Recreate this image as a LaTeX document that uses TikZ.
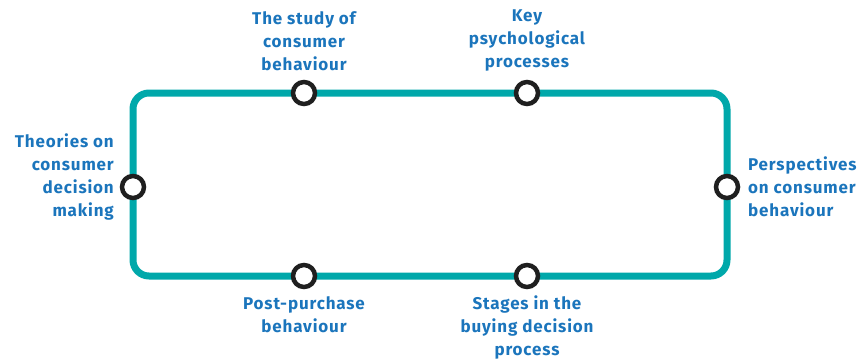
\documentclass[tikz,border=0pt]{standalone}
\usepackage{fontspec}
\setmainfont{Fira Sans}[LetterSpace=5]
\usetikzlibrary{calc}
\definecolor{teal1}{RGB}{0,168,170}
\definecolor{blue1}{RGB}{27,117,188}
\begin{document}
\begin{tikzpicture}[x=1pt,y=-1pt,
  track/.style={draw=teal1,line width=7pt,rounded corners=16pt},
  stop/.style={circle,draw=black!88,line width=4.5pt,fill=white,minimum size=22pt,inner sep=0pt},
  lab/.style={text=blue1,font=\fontsize{17}{23}\selectfont\bfseries,inner sep=0pt,align=center}]
\useasboundingbox (0,0) rectangle (863,364);
\draw[track] (133,93) rectangle (727,276);
\node[stop] (s1) at (304,93) {};
\node[stop] (s2) at (527,93) {};
\node[stop] (s3) at (133,187) {};
\node[stop] (s4) at (727,187) {};
\node[stop] (s5) at (304,276) {};
\node[stop] (s6) at (527,276) {};
\node[lab,anchor=south] (l1) at ($(s1)+(0,-22)$) {The study of\\consumer\\behaviour};
\node[lab,anchor=south] (l2) at ($(s2)+(0,-22)$) {Key\\psychological\\processes};
\node[lab,anchor=east,align=right] (l3) at ($(s3)+(-19,-10)$) {Theories on\\consumer\\decision\\making};
\node[lab,anchor=west,align=left] (l4) at ($(s4)+(21,0)$) {Perspectives\\on consumer\\behaviour};
\node[lab,anchor=north] (l5) at ($(s5)+(0,20)$) {Post-purchase\\behaviour};
\node[lab,anchor=north] (l6) at ($(s6)+(0,20)$) {Stages in the\\buying decision\\process};
\end{tikzpicture}
\end{document}
